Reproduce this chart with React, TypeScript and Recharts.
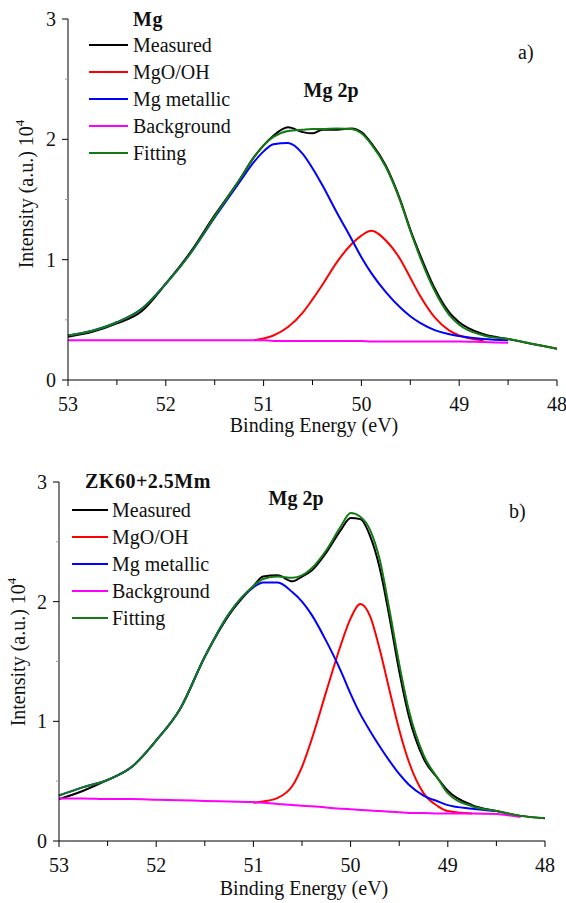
import React from "react";
import { LineChart, Line, XAxis, YAxis, Customized } from "recharts";

const FONT = "'Liberation Serif', 'DejaVu Serif', 'Times New Roman', serif";

// ---------- Panel a (Mg) ----------
const energyA = [53, 52.75, 52.5, 52.25, 52, 51.75, 51.5, 51.25, 51.1, 51, 50.9, 50.75, 50.6, 50.5, 50.4, 50.25, 50.1, 50, 49.9, 49.75, 49.6, 49.5, 49.4, 49.25, 49.1, 49, 48.75, 48.5, 48.25, 48];
const measuredA = [0.36, 0.40, 0.47, 0.57, 0.80, 1.06, 1.37, 1.66, 1.85, 1.95, 2.03, 2.10, 2.06, 2.05, 2.08, 2.08, 2.09, 2.06, 1.97, 1.78, 1.49, 1.25, 1.04, 0.76, 0.56, 0.48, 0.38, 0.34, 0.30, 0.26];
const mgoA = [null, null, null, null, null, null, null, null, 0.33, 0.345, 0.37, 0.44, 0.56, 0.67, 0.79, 0.98, 1.13, 1.20, 1.24, 1.16, 1.00, 0.85, 0.70, 0.52, 0.41, 0.37, 0.33, null, null, null];
const metallicA = [0.37, 0.41, 0.48, 0.59, 0.80, 1.05, 1.35, 1.64, 1.81, 1.90, 1.96, 1.97, 1.88, 1.76, 1.62, 1.39, 1.17, 1.02, 0.89, 0.73, 0.60, 0.53, 0.475, 0.415, 0.38, 0.365, 0.34, 0.33, null, null];
const backgroundA = [0.33, 0.33, 0.33, 0.33, 0.33, 0.33, 0.33, 0.33, 0.33, 0.33, 0.325, 0.325, 0.325, 0.325, 0.325, 0.325, 0.325, 0.325, 0.32, 0.32, 0.32, 0.32, 0.32, 0.32, 0.32, 0.32, 0.315, 0.31, null, null];
const fittingA = [0.37, 0.41, 0.48, 0.59, 0.80, 1.05, 1.36, 1.66, 1.85, 1.95, 2.02, 2.07, 2.08, 2.085, 2.085, 2.09, 2.085, 2.05, 1.96, 1.77, 1.48, 1.24, 1.02, 0.74, 0.54, 0.46, 0.37, 0.34, 0.30, 0.26];

// ---------- Panel b (ZK60+2.5Mm) ----------
const energyB = [53, 52.75, 52.5, 52.25, 52, 51.75, 51.5, 51.25, 51, 50.9, 50.75, 50.6, 50.5, 50.4, 50.25, 50.1, 50, 49.9, 49.8, 49.7, 49.6, 49.5, 49.4, 49.25, 49.1, 49, 48.75, 48.5, 48.25, 48];
const measuredB = [0.35, 0.42, 0.51, 0.62, 0.84, 1.11, 1.54, 1.89, 2.13, 2.21, 2.22, 2.17, 2.21, 2.26, 2.41, 2.60, 2.70, 2.69, 2.55, 2.28, 1.87, 1.42, 1.04, 0.69, 0.52, 0.42, 0.30, 0.25, 0.21, 0.19];
const mgoB = [null, null, null, null, null, null, null, null, 0.32, 0.33, 0.36, 0.46, 0.62, 0.85, 1.25, 1.64, 1.86, 1.98, 1.88, 1.60, 1.26, 0.93, 0.66, 0.40, 0.29, 0.25, 0.23, null, null, null];
const metallicB = [0.38, 0.45, 0.51, 0.62, 0.84, 1.11, 1.54, 1.90, 2.12, 2.16, 2.16, 2.08, 2.00, 1.89, 1.67, 1.42, 1.23, 1.06, 0.92, 0.79, 0.67, 0.56, 0.47, 0.38, 0.33, 0.30, 0.27, 0.25, null, null];
const backgroundB = [0.355, 0.355, 0.35, 0.35, 0.345, 0.34, 0.335, 0.33, 0.325, 0.32, 0.31, 0.30, 0.295, 0.29, 0.28, 0.27, 0.265, 0.26, 0.255, 0.25, 0.245, 0.24, 0.235, 0.235, 0.23, 0.23, 0.23, 0.225, 0.20, null];
const fittingB = [0.38, 0.45, 0.51, 0.62, 0.84, 1.11, 1.54, 1.90, 2.13, 2.19, 2.21, 2.20, 2.22, 2.28, 2.43, 2.63, 2.74, 2.71, 2.60, 2.35, 1.93, 1.48, 1.09, 0.72, 0.52, 0.40, 0.29, 0.25, 0.21, 0.19];

const xTicks = [53, 52.5, 52, 51.5, 51, 50.5, 50, 49.5, 49, 48.5, 48];
const yTicks = [0, 0.5, 1, 1.5, 2, 2.5, 3];

const seriesNames = ["Measured", "MgO/OH", "Mg metallic", "Background", "Fitting"];
const seriesKeys = ["measured", "mgo", "metallic", "background", "fitting"];
const seriesColors = ["#000000", "#ff0000", "#0000ff", "#ff00ff", "#157a15"];

const buildRows = (energy: number[], cols: (number | null)[][]) =>
  energy.map((e, i) => {
    const row: Record<string, number | null> = { e };
    seriesKeys.forEach((k, j) => (row[k] = cols[j][i]));
    return row;
  });

const dataA = buildRows(energyA, [measuredA, mgoA, metallicA, backgroundA, fittingA]);
const dataB = buildRows(energyB, [measuredB, mgoB, metallicB, backgroundB, fittingB]);

const TICK_SIZE = 6;
const X_MARGIN = 11;
const Y_MARGIN = 6;

const txt = (size: number, bold?: boolean): React.CSSProperties => ({
  fontFamily: FONT,
  fontSize: size,
  fontWeight: bold ? 700 : 400,
});

const XTick = (props: any) => {
  const { x, y, payload } = props;
  const v = payload.value;
  const major = Number.isInteger(v);
  const axisY = y - TICK_SIZE - X_MARGIN;
  return (
    <g>
      <line x1={x} x2={x} y1={axisY} y2={axisY + (major ? 6 : 5)} stroke="#000" strokeWidth={1} />
      {major && (
        <text x={x} y={y} dy="0.71em" textAnchor="middle" style={txt(20)} fill="#111">
          {v}
        </text>
      )}
    </g>
  );
};

const YTick = (props: any) => {
  const { x, y, payload } = props;
  const v = payload.value;
  const major = Number.isInteger(v);
  const axisX = x + TICK_SIZE + Y_MARGIN;
  return (
    <g>
      <line x1={axisX} x2={axisX - (major ? 6 : 3)} y1={y} y2={y} stroke={major ? "#000" : "#999"} strokeWidth={1} />
      {major && (
        <text x={x} y={y} dy="0.35em" textAnchor="end" style={txt(20)} fill="#111">
          {v}
        </text>
      )}
    </g>
  );
};

const YLabel = ({ cx, cy }: { cx: number; cy: number }) => (
  <text transform={`translate(${cx},${cy}) rotate(-90)`} textAnchor="middle" style={txt(20)} fill="#111">
    Intensity (a.u.) 10
    <tspan dy={-9} style={txt(13)}>4</tspan>
  </text>
);

const XLabel = ({ cx, y }: { cx: number; y: number }) => (
  <text x={cx} y={y} textAnchor="middle" style={txt(20)} fill="#111">
    Binding Energy (eV)
  </text>
);

type LegendProps = {
  title: string;
  titleX: number;
  titleY: number;
  lineX1: number;
  lineX2: number;
  textX: number;
  firstY: number;
  step: number;
};

const LegendBox = ({ title, titleX, titleY, lineX1, lineX2, textX, firstY, step }: LegendProps) => (
  <g>
    <text x={titleX} y={titleY} style={{ ...txt(20, true), letterSpacing: 0.5 }} fill="#111">
      {title}
    </text>
    {seriesNames.map((name, i) => {
      const yy = firstY + i * step;
      return (
        <g key={name}>
          <line x1={lineX1} x2={lineX2} y1={yy} y2={yy} stroke={seriesColors[i]} strokeWidth={2} />
          <text x={textX} y={yy + 7} style={txt(20)} fill="#111">
            {name}
          </text>
        </g>
      );
    })}
  </g>
);

const Annot = ({ x, y, text, bold, anchor }: { x: number; y: number; text: string; bold?: boolean; anchor?: string }) => (
  <text x={x} y={y} textAnchor={anchor || "start"} style={txt(20, bold)} fill="#111">
    {text}
  </text>
);

const renderLines = () =>
  seriesKeys.map((k, i) => (
    <Line
      key={k}
      type="monotone"
      dataKey={k}
      stroke={seriesColors[i]}
      strokeWidth={2}
      dot={false}
      activeDot={false}
      isAnimationActive={false}
      connectNulls={false}
    />
  ));

export default function App() {
  return (
    <div style={{ position: "absolute", left: 0, top: 0, width: 566, height: 903, background: "#fff", fontFamily: FONT }}>
      <LineChart width={566} height={450} data={dataA} margin={{ top: 19, right: 9, left: 0, bottom: 10 }}>
        <XAxis
          dataKey="e"
          type="number"
          domain={[48, 53]}
          reversed
          ticks={xTicks}
          interval={0}
          height={60}
          tickSize={TICK_SIZE}
          tickMargin={X_MARGIN}
          tickLine={false}
          tick={<XTick />}
          axisLine={{ stroke: "#000", strokeWidth: 1 }}
        />
        <YAxis
          type="number"
          domain={[0, 3]}
          ticks={yTicks}
          interval={0}
          width={68}
          tickSize={TICK_SIZE}
          tickMargin={Y_MARGIN}
          tickLine={false}
          tick={<YTick />}
          axisLine={{ stroke: "#000", strokeWidth: 1 }}
        />
        {renderLines()}
        <Customized
          component={() => (
            <g>
              <YLabel cx={33} cy={194} />
              <XLabel cx={314} y={432} />
              <LegendBox title="Mg" titleX={133} titleY={26} lineX1={89} lineX2={128} textX={133} firstY={45} step={27} />
              <Annot x={331} y={97} text="Mg 2p" bold anchor="middle" />
              <Annot x={518} y={59} text="a)" />
            </g>
          )}
        />
      </LineChart>
      <LineChart width={566} height={453} data={dataB} margin={{ top: 32, right: 21, left: 0, bottom: 2 }}>
        <XAxis
          dataKey="e"
          type="number"
          domain={[48, 53]}
          reversed
          ticks={xTicks}
          interval={0}
          height={60}
          tickSize={TICK_SIZE}
          tickMargin={X_MARGIN}
          tickLine={false}
          tick={<XTick />}
          axisLine={{ stroke: "#000", strokeWidth: 1 }}
        />
        <YAxis
          type="number"
          domain={[0, 3]}
          ticks={yTicks}
          interval={0}
          width={59}
          tickSize={TICK_SIZE}
          tickMargin={Y_MARGIN}
          tickLine={false}
          tick={<YTick />}
          axisLine={{ stroke: "#000", strokeWidth: 1 }}
        />
        {renderLines()}
        <Customized
          component={() => (
            <g>
              <YLabel cx={25} cy={202} />
              <XLabel cx={304} y={445} />
              <LegendBox title="ZK60+2.5Mm" titleX={85} titleY={38} lineX1={72} lineX2={108} textX={112} firstY={60} step={27} />
              <Annot x={296} y={55} text="Mg 2p" bold anchor="middle" />
              <Annot x={509} y={68} text="b)" />
            </g>
          )}
        />
      </LineChart>
    </div>
  );
}
